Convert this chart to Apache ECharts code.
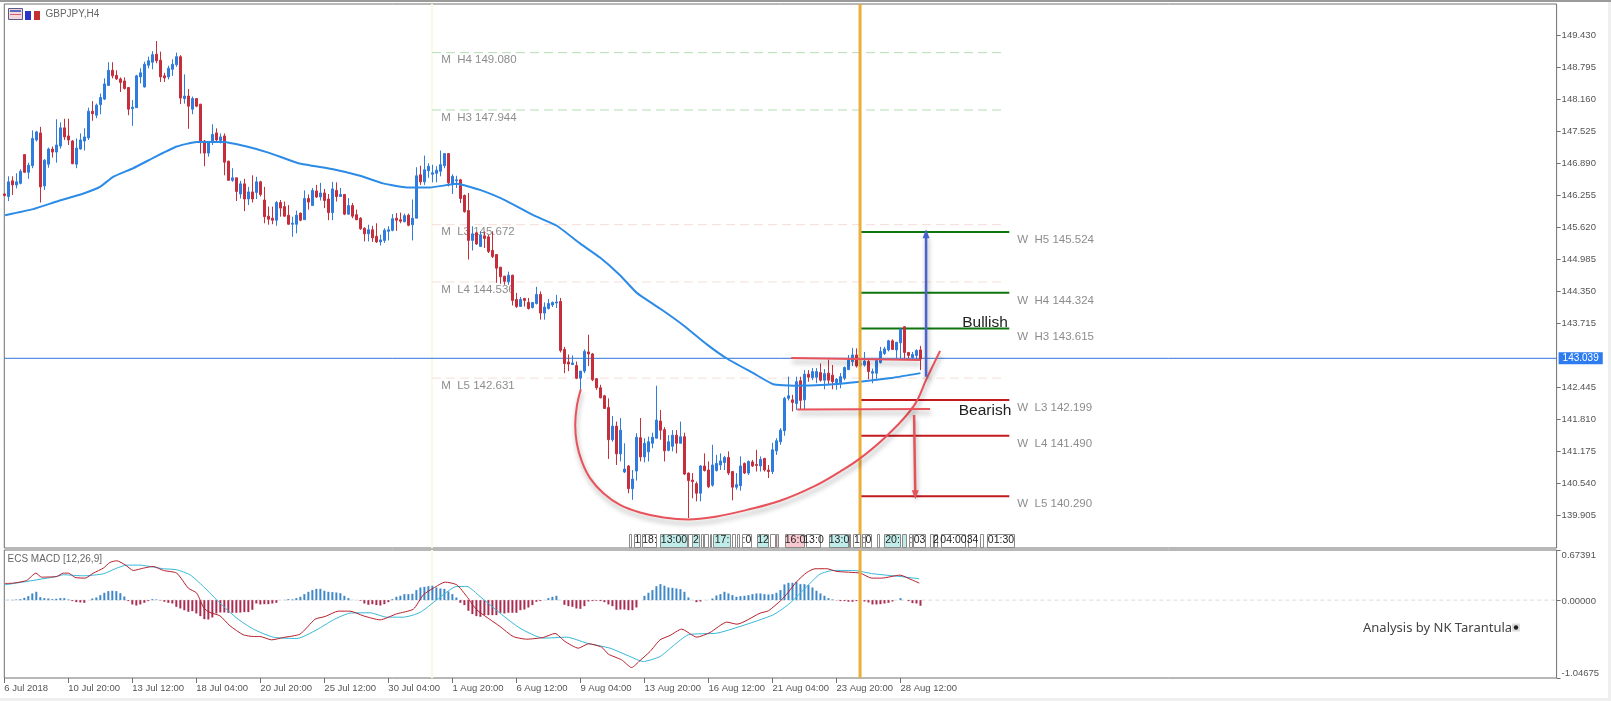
<!DOCTYPE html>
<html>
<head>
<meta charset="utf-8">
<title>GBPJPY,H4</title>
<style>
html, body { margin: 0; padding: 0; background: #fff; }
#main { width: 1611px; height: 701px; }
</style>
<script src="https://cdn.jsdelivr.net/npm/echarts@6/dist/echarts.min.js"></script>
</head>
<body>
<div id="main"></div>
<script>
// bottom time scale, one label every 16 bars
var timeLabels = ['6 Jul 2018', '10 Jul 20:00', '13 Jul 12:00', '18 Jul 04:00', '20 Jul 20:00', '25 Jul 12:00', '30 Jul 04:00', '1 Aug 20:00', '6 Aug 12:00', '9 Aug 04:00', '13 Aug 20:00', '16 Aug 12:00', '21 Aug 04:00', '23 Aug 20:00', '28 Aug 12:00'];
// 143.080 is hidden behind the bid box in the picture, so it is left out
var priceTicks = [149.430, 148.795, 148.160, 147.525, 146.890, 146.255, 145.620, 144.985, 144.350, 143.715, 142.445, 141.810, 141.175, 140.540, 139.905];
var macdTicks = [0.67391, 0, -1.04675];

// open, close, low, high
var ohlc = [
[146.28,146.25,146.23,146.29],[146.23,146.52,146.14,146.63],[146.54,146.46,146.26,146.63],[146.46,146.52,146.39,146.69],[146.49,146.73,146.47,146.77],
[147.06,146.71,146.70,147.07],[146.71,146.85,146.58,146.90],[146.84,147.38,146.79,147.54],[147.35,147.51,147.32,147.53],[147.49,146.42,146.11,147.61],
[146.44,146.95,146.36,146.97],[146.87,147.17,146.80,147.20],[147.17,147.11,147.00,147.22],[147.11,147.25,146.90,147.76],[147.23,147.59,147.18,147.70],
[147.59,147.41,147.35,147.77],[147.43,147.35,147.25,147.77],[147.33,146.88,146.87,147.35],[146.87,147.19,146.79,147.38],[147.17,147.35,147.16,147.48],
[147.33,147.41,147.14,147.58],[147.39,147.92,147.35,147.99],[147.92,147.87,147.73,148.12],[147.84,148.04,147.78,148.07],[148.05,148.19,147.86,148.27],
[148.16,148.46,148.14,148.57],[148.43,148.73,148.42,148.89],[148.73,148.62,148.57,148.89],[148.63,148.56,148.54,148.73],[148.56,148.49,148.30,148.59],
[148.52,148.37,148.35,148.59],[148.39,147.96,147.84,148.39],[147.97,148.00,147.63,148.14],[147.99,148.62,147.99,148.64],[148.60,148.68,148.47,148.77],
[148.40,148.85,148.39,148.90],[148.83,148.92,148.77,149.00],[148.89,149.04,148.75,149.11],[149.05,148.92,148.87,149.31],[148.93,148.60,148.50,149.10],
[148.62,148.58,148.50,148.68],[148.60,148.77,148.55,148.82],[148.75,148.85,148.62,148.95],[148.84,149.00,148.80,149.08],[149.00,148.18,148.06,149.03],
[148.17,148.22,148.07,148.65],[148.22,148.02,147.57,148.36],[147.96,148.17,147.86,148.21],[148.17,148.02,148.00,148.17],[148.06,147.33,147.08,148.06],
[147.33,147.09,146.83,147.35],[147.09,147.32,147.02,147.33],[147.31,147.46,147.25,147.66],[147.49,147.35,147.32,147.58],[147.34,147.41,147.28,147.48],
[147.43,146.91,146.65,147.48],[146.93,146.55,146.54,146.94],[146.55,146.60,146.52,146.79],[146.60,146.33,146.14,146.60],[146.28,146.48,146.19,146.54],
[146.48,146.18,145.94,146.58],[146.18,146.32,146.06,146.42],[146.32,146.18,146.11,146.65],[146.31,146.52,146.18,146.62],[146.52,146.27,146.23,146.54],
[146.16,145.83,145.70,146.42],[145.84,145.78,145.67,146.03],[145.80,145.76,145.68,146.03],[145.76,146.11,145.65,146.14],[146.11,146.00,145.83,146.16],
[146.03,145.84,145.83,146.13],[145.86,145.68,145.67,146.06],[145.68,145.70,145.43,145.83],[145.68,145.86,145.50,145.95],[145.90,145.76,145.74,145.91],
[145.77,146.19,145.77,146.35],[146.19,146.12,145.97,146.27],[146.05,146.35,146.05,146.40],[146.34,146.22,146.20,146.46],[146.22,146.30,146.15,146.50],
[146.30,146.15,146.00,146.38],[146.18,145.91,145.76,146.28],[145.91,146.38,145.76,146.52],[146.35,146.23,146.13,146.51],[146.23,146.27,146.22,146.40],
[146.27,145.88,145.86,146.28],[145.88,146.05,145.87,146.20],[146.05,145.84,145.80,146.10],[145.87,145.77,145.76,145.97],[145.80,145.59,145.57,145.82],
[145.60,145.49,145.34,145.62],[145.49,145.57,145.34,145.67],[145.57,145.41,145.33,145.65],[145.44,145.33,145.31,145.70],[145.33,145.37,145.26,145.47],
[145.36,145.56,145.31,145.60],[145.54,145.57,145.36,145.64],[145.56,145.79,145.54,145.88],[145.80,145.76,145.55,145.90],[145.77,145.74,145.70,145.91],
[145.73,145.85,145.72,145.89],[145.86,145.66,145.64,145.89],[145.67,145.80,145.36,146.17],[145.80,146.64,145.80,146.81],[146.66,146.52,146.46,146.84],
[146.52,146.76,146.46,147.04],[146.74,146.83,146.60,146.89],[146.67,146.70,146.51,146.86],[146.69,146.75,146.51,146.83],[146.73,146.86,146.63,147.14],
[146.84,147.08,146.79,147.09],[147.08,146.50,146.43,147.09],[146.48,146.63,146.28,146.67],[146.54,146.56,146.40,146.64],[146.56,146.19,146.10,146.58],
[146.25,145.93,145.91,146.27],[145.95,145.36,144.98,146.30],[145.36,145.49,145.16,145.64],[145.51,145.29,145.27,145.53],[145.24,145.47,145.23,145.54],
[145.45,145.40,145.21,145.54],[145.43,145.14,145.11,145.47],[145.16,145.04,145.01,145.54],[145.08,144.81,144.52,145.09],[144.83,144.64,144.50,144.83],
[144.65,144.55,144.48,144.66],[144.54,144.67,144.48,144.74],[144.67,144.17,144.07,144.68],[144.19,144.05,144.02,144.32],[144.05,144.19,144.04,144.24],
[144.21,144.17,144.05,144.22],[144.13,144.01,143.99,144.22],[144.03,144.13,144.01,144.13],[144.11,144.29,144.09,144.44],[144.29,143.92,143.79,144.35],
[143.92,144.04,143.79,144.13],[144.01,144.11,143.99,144.20],[144.08,144.13,144.04,144.15],[144.12,144.14,144.02,144.28],[144.15,143.18,143.14,144.22],
[143.20,142.92,142.73,143.25],[142.95,142.91,142.77,143.10],[142.90,142.93,142.89,143.08],[142.88,142.63,142.61,142.96],[142.63,142.77,142.40,142.77],
[142.77,143.16,142.73,143.20],[143.15,143.11,142.87,143.49],[143.11,142.60,142.57,143.13],[142.62,142.44,142.40,142.63],[142.44,142.24,142.23,142.50],
[142.28,142.03,142.02,142.30],[142.05,141.41,141.03,142.23],[141.41,141.68,141.37,141.88],[141.68,141.13,140.91,141.77],[141.13,141.60,140.98,141.84],
[140.77,140.83,140.75,141.34],[140.89,140.44,140.35,140.91],[140.44,140.63,140.22,140.81],[140.79,141.46,140.60,141.54],[141.45,141.07,140.98,141.84],
[141.07,141.34,140.96,141.44],[141.17,141.37,140.98,141.47],[141.34,141.46,141.24,141.55],[141.44,141.80,141.44,142.48],[141.78,141.60,141.41,142.00],
[141.61,141.19,140.98,141.66],[141.20,141.37,141.18,141.50],[141.28,141.50,141.18,141.60],[141.50,141.34,141.14,141.60],[141.34,141.47,141.34,141.77],
[141.47,140.73,140.71,141.55],[140.75,140.60,139.86,140.76],[140.61,140.58,140.25,140.75],[140.54,140.35,140.19,140.58],[140.35,140.89,140.19,140.91],
[140.89,140.80,140.78,141.14],[140.81,140.48,140.45,140.98],[140.51,140.91,140.48,141.31],[140.80,140.94,140.78,141.11],[140.91,140.99,140.81,141.14],
[140.96,141.06,140.81,141.09],[141.06,140.75,140.71,141.18],[140.78,140.47,140.21,140.79],[140.47,140.52,140.42,140.75],[140.50,140.89,140.40,141.08],
[140.94,140.75,140.73,140.96],[140.75,140.98,140.71,141.00],[140.97,140.89,140.87,141.01],[140.92,140.90,140.78,141.21],[140.89,141.02,140.78,141.08],
[141.04,140.81,140.78,141.05],[140.81,140.78,140.65,140.91],[140.78,141.21,140.73,141.35],[141.19,141.39,141.11,141.44],[141.37,141.60,141.31,141.64],
[141.59,142.23,141.49,142.26],[142.23,142.28,142.19,142.66],[142.20,142.15,141.97,142.30],[142.13,142.56,142.00,142.66],[142.58,142.19,142.00,142.66],
[142.20,142.71,142.01,142.79],[142.71,142.65,142.56,142.79],[142.64,142.76,142.59,142.83],[142.65,142.76,142.53,142.83],[142.74,142.59,142.56,142.92],
[142.59,142.72,142.41,142.81],[142.73,142.59,142.50,143.00],[142.69,142.56,142.41,142.89],[142.54,142.61,142.40,142.63],[142.54,142.66,142.43,142.73],
[142.63,142.84,142.59,142.86],[142.80,142.99,142.79,143.09],[142.96,143.09,142.87,143.23],[143.09,142.87,142.84,143.22],[142.89,142.92,142.73,142.99],
[142.89,142.97,142.86,143.15],[142.96,142.76,142.61,142.99],[142.73,142.76,142.53,142.82],[142.73,142.98,142.59,142.99],[142.94,143.16,142.92,143.25],
[143.12,143.21,143.09,143.25],[143.19,143.37,143.16,143.39],[143.37,143.20,143.19,143.40],[143.19,143.34,143.02,143.35],[143.33,143.60,143.02,143.62],
[143.65,143.14,143.02,143.66],[143.14,143.08,143.02,143.15],[143.04,143.10,143.01,143.15],[143.08,143.18,143.01,143.20],[143.19,143.01,142.79,143.27]
];

// moving average: [bar, price]
var maLine = [[0.2,145.86],[7.25,145.98],[13.1,146.13],[19.8,146.29],[23.9,146.42],[27.2,146.62],[32.2,146.79],[38.1,147.03],[43.1,147.22],[48.1,147.31],[54.8,147.31],[60.6,147.22],[66.4,147.09],[73.5,146.89],[82.2,146.77],[88.9,146.64],[94.7,146.49],[100.6,146.41],[106.4,146.41],[113.1,146.48],[118.9,146.36],[125.6,146.14],[132.2,145.86],[138.1,145.65],[143.9,145.30],[148.9,145.02],[153.9,144.67],[158.1,144.32],[163.9,144.01],[169.7,143.68],[175.6,143.30],[180.6,143.02],[187.2,142.73],[192.2,142.51],[197.2,142.48],[205.6,142.50],[213.9,142.56],[222.2,142.64],[229,142.73]];

var currentPrice = 143.024;
var currentPriceLabel = '143.039';

var monthlyNames = ['M  H4', 'M  H3', 'M  L3', 'M  L4', 'M  L5'];
var monthlyLevels = [149.080, 147.944, 145.672, 144.536, 142.631];
var weeklyNames = ['W  H5', 'W  H4', 'W  H3', 'W  L3', 'W  L4', 'W  L5'];
var weeklyLevels = [145.524, 144.324, 143.615, 142.199, 141.490, 140.290];

// hand drawn marks, [bar, price]
var cupCurve = [[144.1,142.41],[143.1,142.07],[142.7,141.70],[143.1,141.34],[144.35,140.98],[146.4,140.65],[149.75,140.35],[153.9,140.12],[158.9,139.97],[164.75,139.87],[171,139.83],[178.1,139.89],[185.6,140.02],[193.9,140.20],[202.25,140.48],[208.9,140.78],[213.9,141.04],[220.6,141.49],[227.25,142.07],[230.6,142.63],[233.9,143.17]];
var resistanceLine = [[196.7,143.03],[228.9,142.99]];
var supportLine = [[198.2,142.01],[231.4,142.02]];
var bullArrow = [[230.4,142.66],[230.4,145.49]];
var bearArrow = [[227.4,141.90],[227.7,140.32]];

// MACD window
var macdHist = [
.004,.004,.004,.009,.013,.031,.054,.09,.112,.04,
.027,.022,.013,.018,.027,.027,.009,-.013,-.027,-.031,
-.036,0,.022,.036,.067,.099,.121,.126,.121,.094,
.049,-.013,-.058,-.072,-.058,-.036,-.013,.013,.009,-.004,
-.022,-.036,-.045,-.09,-.112,-.135,-.157,-.148,-.179,-.215,
-.256,-.26,-.233,-.179,-.166,-.166,-.17,-.17,-.17,-.166,
-.161,-.161,-.13,-.045,-.058,-.054,-.054,-.045,-.036,0,
.004,.013,.009,.027,.045,.081,.112,.135,.152,.152,
.126,.112,.108,.103,.094,.058,.027,.004,0,-.009,
-.045,-.063,-.054,-.067,-.072,-.054,-.027,.013,.045,.058,
.081,.081,.085,.135,.17,.179,.188,.193,.17,.157,
.152,.117,.081,.036,-.036,-.067,-.143,-.188,-.215,-.224,
-.202,-.202,-.202,-.202,-.17,-.179,-.17,-.17,-.17,
-.135,-.126,-.099,-.067,-.022,-.013,0,.027,.045,.058,
0,-.063,-.081,-.09,-.112,-.117,-.081,-.018,-.013,-.009,
-.013,-.027,-.058,-.081,-.13,-.126,-.126,-.135,-.135,-.099,
0,.058,.099,.135,.188,.215,.193,.17,.166,.157,
.148,.112,.036,0,-.027,-.018,0,0,.022,.063,
.081,.112,.09,.067,.045,.054,.058,.067,.081,.09,
.09,.081,.076,.081,.099,.135,.211,.233,.233,.247,
.215,.215,.202,.17,.126,.09,.058,.027,.009,-.004,
-.013,-.013,-.022,-.022,-.013,-.004,-.018,-.031,-.058,-.058,
-.054,-.045,-.036,-.018,0,.027,0,-.013,-.04,-.045,-.076
];
var macdLine = [[0.2,.224],[2.25,.229],[5.6,.265],[7.9,.363],[9.3,.309],[13.1,.318],[14.75,.363],[16,.363],[17.7,.305],[20.2,.296],[22.25,.363],[24.75,.430],[26.4,.507],[28.1,.529],[30.2,.475],[32.25,.399],[34.75,.430],[37.25,.453],[39.75,.399],[43.1,.363],[46,.161],[48.1,.094],[49.9,-.108],[51.4,-.166],[53.9,-.211],[56.4,-.345],[59.75,-.466],[62.25,-.489],[63.9,-.489],[66.8,-.534],[69.75,-.502],[73.9,-.457],[77.7,-.256],[80.2,-.220],[83.5,-.148],[86.4,-.148],[89.75,-.211],[93.9,-.265],[98.1,-.184],[102.25,-.121],[104.75,.072],[107.25,.161],[110.2,.242],[113.1,.206],[115.6,.049],[118.1,-.130],[123.9,-.354],[127.2,-.489],[130.6,-.525],[134.7,-.502],[137.65,-.448],[140.15,-.556],[143.5,-.646],[146,-.587],[149.3,-.632],[151,-.726],[154.3,-.803],[156.8,-.906],[158.9,-.812],[161.4,-.691],[163.9,-.534],[166.4,-.475],[169.3,-.390],[173.1,-.498],[176.4,-.435],[180.6,-.296],[183.1,-.323],[188.9,-.175],[191,-.143],[194.7,.027],[198.1,.251],[200.6,.372],[202.65,.422],[205.6,.422],[208.1,.386],[213.9,.363],[216.8,.296],[219.3,.296],[223.9,.336],[226.4,.283],[228.7,.229]];
var signalLine = [[0.2,.206],[5.6,.251],[13.1,.318],[14.75,.341],[19.75,.327],[24.75,.354],[28.1,.430],[30.6,.471],[33.9,.471],[37.25,.444],[39.75,.422],[43.1,.408],[46.4,.341],[49.75,.184],[53.9,-.040],[58.1,-.242],[62.25,-.390],[67.25,-.498],[73.1,-.516],[78.1,-.399],[82.25,-.265],[86.4,-.175],[91.4,-.170],[95.6,-.229],[99.75,-.229],[103.9,-.166],[108.1,.004],[113.1,.184],[115.6,.184],[118.9,.049],[123.9,-.175],[128.9,-.377],[134.7,-.511],[140.6,-.498],[145.6,-.578],[151.4,-.646],[156.4,-.758],[159.7,-.825],[163.9,-.758],[167.2,-.614],[171,-.466],[178.1,-.444],[183.9,-.354],[192.2,-.197],[196.4,-.040],[200.6,.184],[203.9,.350],[207.2,.399],[212.2,.399],[217.2,.354],[223.9,.318],[228.7,.287]];

// vertical period lines, in bars
var periodBar = 106.9;
var weekBar = 213.9;

var totalBars = 388;
var monthStart = periodBar, monthEnd = 249.4, monthText = 109.2;
var weekStart = weekBar, weekEnd = 251.2, weekText = 253.2;

var FONT = '"Liberation Sans", Arial, sans-serif';
var TEXT_GREY = '#555';
var priceMin = 139.265, priceMax = 150.044;
var macdMin = -1.04675, macdMax = 0.67391;

// 389 slots, only every 16th has a name
var categories = [];
for (var i = 0; i <= totalBars; i++) {
	categories.push(i % 16 === 0 && timeLabels[i / 16] ? timeLabels[i / 16] : '');
}

var series = [];

function flatLine(name, a, b, price, style, z) {
	series.push({
		name: name, type: 'line', xAxisIndex: 2, yAxisIndex: 0, z: z || 3,
		symbol: 'none', silent: true, animation: false,
		data: [[a, price], [b, price]], lineStyle: style
	});
}

function levelText(names, levels, bar, offset) {
	series.push({
		type: 'scatter', xAxisIndex: 2, yAxisIndex: 0, z: 4, symbolSize: 0, silent: true, animation: false,
		data: levels.map(function (v, i) { return { value: [bar, v], name: names[i] }; }),
		label: {
			show: true, position: 'right', distance: 0, offset: [0, offset],
			fontFamily: FONT, fontSize: 11.5, color: '#6F6F6F',
			formatter: function (p) { return p.name + ' ' + p.value[1].toFixed(3); }
		}
	});
}

// vertical period lines in both windows
function vLine(bar, color, width, z) {
	series.push({ type: 'line', xAxisIndex: 2, yAxisIndex: 0, z: z, symbol: 'none', silent: true, animation: false,
		data: [[bar, priceMin], [bar, priceMax]], lineStyle: { color: color, width: width } });
	series.push({ type: 'line', xAxisIndex: 3, yAxisIndex: 1, z: z, symbol: 'none', silent: true, animation: false,
		data: [[bar, macdMin], [bar, macdMax]], lineStyle: { color: color, width: width } });
}
vLine(periodBar, '#FAFAE0', 2, 1);

monthlyLevels.forEach(function (v, i) {
	var c = i < 2 ? '#B5DDB0' : '#F6DDD8';
	flatLine(monthlyNames[i], monthStart, monthEnd, v, { color: c, width: 1, type: [9, 5] }, 2);
});
weeklyLevels.forEach(function (v, i) {
	var c = i < 3 ? '#0F760F' : '#C21A1E';
	flatLine(weeklyNames[i], weekStart, weekEnd, v, { color: c, width: 2 }, 3);
});
levelText(monthlyNames, monthlyLevels, monthText, 7.5);
levelText(weeklyNames, weeklyLevels, weekText, 8);

// current bid line
series.push({
	name: 'bid', type: 'line', xAxisIndex: 2, yAxisIndex: 0, z: 4, symbol: 'none', silent: true, animation: false,
	data: [[0, currentPrice], [totalBars, currentPrice]],
	lineStyle: { color: '#2E73D8', width: 1 },
	endLabel: {
		show: true, distance: 2, formatter: currentPriceLabel, color: '#fff', backgroundColor: '#2C7BF0',
		fontFamily: FONT, fontSize: 10, padding: [1, 4, 1, 4]
	}
});

series.push({
	name: 'GBPJPY', type: 'candlestick', xAxisIndex: 0, yAxisIndex: 0, z: 5, barWidth: 2, silent: true, animation: false,
	data: ohlc,
	itemStyle: { color: '#2F7BDE', color0: '#C52F3B', borderColor: '#2F7BDE', borderColor0: '#C52F3B', borderWidth: 1 }
});
series.push({
	name: 'MA', type: 'line', xAxisIndex: 2, yAxisIndex: 0, z: 6, symbol: 'none', smooth: 0.15, silent: true, animation: false,
	data: maLine, lineStyle: { color: '#2C8BE6', width: 2 }
});

vLine(weekBar, '#E9AE3C', 3, 7);

// red and blue pen marks, they have a soft shadow in the picture
var penShadow = { shadowColor: 'rgba(0,0,0,0.35)', shadowBlur: 5, shadowOffsetY: 4, shadowOffsetX: 1 };
function penLine(data, color, width, smooth) {
	series.push({
		type: 'line', xAxisIndex: 2, yAxisIndex: 0, z: 8, symbol: 'none', smooth: smooth || false, silent: true, animation: false,
		data: data, lineStyle: Object.assign({ color: color, width: width }, penShadow)
	});
}
penLine(cupCurve, '#E8525A', 2, 0.4);
penLine(resistanceLine, '#E8525A', 2);
penLine(supportLine, '#E8525A', 2);

function penArrow(data, color, rotate) {
	series.push({
		type: 'line', xAxisIndex: 2, yAxisIndex: 0, z: 8, silent: true, animation: false, showSymbol: true,
		data: [
			{ value: data[0], symbol: 'none' },
			{ value: data[1], symbol: 'triangle', symbolSize: [7, 9], symbolRotate: rotate }
		],
		itemStyle: { color: color },
		lineStyle: Object.assign({ color: color, width: 2.5 }, penShadow)
	});
}
penArrow(bullArrow, '#4A62CC', 0);
penArrow(bearArrow, '#E2535A', 180);

// MACD window
series.push({
	name: 'zero', type: 'line', xAxisIndex: 3, yAxisIndex: 1, z: 1, symbol: 'none', silent: true, animation: false,
	data: [[0, 0], [totalBars, 0]], lineStyle: { color: '#DDD', width: 1, type: [4, 3] }
});
series.push({
	name: 'hist', type: 'bar', xAxisIndex: 1, yAxisIndex: 1, z: 3, barWidth: 2, silent: true, animation: false,
	data: macdHist,
	itemStyle: { color: function (p) { return p.value >= 0 ? '#3F88C8' : '#A82C50'; } }
});
series.push({
	name: 'signal', type: 'line', xAxisIndex: 3, yAxisIndex: 1, z: 4, symbol: 'none', smooth: 0.2, silent: true, animation: false,
	data: signalLine, lineStyle: { color: '#35B8D8', width: 1 }
});
series.push({
	name: 'macd', type: 'line', xAxisIndex: 3, yAxisIndex: 1, z: 5, symbol: 'none', smooth: 0.2, silent: true, animation: false,
	data: macdLine, lineStyle: { color: '#B5202C', width: 1 }
});

// period tags sitting on the bottom of the main window: left, width, text, fill
var WHITE = '#fff', TEAL = '#BFEBE8', PINK = '#F8C8D0';
var timeTags = [
	[629, 2, '', WHITE], [634, 6, '1', WHITE], [642, 14, '18:', WHITE], [660, 27, '13:00', TEAL], [688, 4, '', WHITE],
	[692, 7, '2', TEAL], [701, 2, '', WHITE], [704, 4, '', WHITE], [710, 1, '', PINK], [713, 17, '17:', TEAL],
	[732, 3, '', WHITE], [737, 2, '', WHITE], [742, 9, ':0', WHITE], [757, 11, '12', TEAL], [770, 5, '', WHITE],
	[776, 2, '', PINK], [785, 19, '16:0', PINK], [806, 14, '13:0', WHITE], [829, 19, '13:0', TEAL], [849, 1, '', PINK],
	[853, 7, '1', WHITE], [862, 3, ':', WHITE], [865, 6, '0', WHITE], [877, 2, '', WHITE], [884, 16, '20:', TEAL],
	[902, 4, '', TEAL], [909, 3, ':', WHITE], [913, 12, '03', WHITE], [930, 3, '', WHITE], [934, 3, '2', WHITE],
	[941, 24, '04:00', WHITE], [968, 8, '34', WHITE], [980, 3, '', WHITE], [987, 27, '01:30', WHITE]
];

var graphics = [
	{ type: 'rect', shape: { x: 0, y: 0, width: 1611, height: 2 }, style: { fill: '#9A9A9A' }, z: 50 },
	{ type: 'rect', shape: { x: 1608, y: 2, width: 3, height: 699 }, style: { fill: '#EFEFEF' }, z: 50 },
	{ type: 'rect', shape: { x: 0, y: 698, width: 1611, height: 3 }, style: { fill: '#EFEFEF' }, z: 50 },
	// little window icons next to the symbol name
	{ type: 'rect', shape: { x: 8.5, y: 8.5, width: 14, height: 11 }, style: { fill: '#F2D7DC', stroke: '#5A5A8A' }, z: 50 },
	{ type: 'rect', shape: { x: 10, y: 10, width: 11, height: 2 }, style: { fill: '#5A6AC0' }, z: 51 },
	{ type: 'rect', shape: { x: 10, y: 14, width: 11, height: 1 }, style: { fill: '#D06070' }, z: 51 },
	{ type: 'rect', shape: { x: 25, y: 11, width: 6, height: 9 }, style: { fill: '#2A34C8' }, z: 50 },
	{ type: 'rect', shape: { x: 34, y: 11, width: 6, height: 9 }, style: { fill: '#C43030' }, z: 50 },
	{ type: 'text', x: 45.5, y: 14.5, z: 50, style: { text: 'GBPJPY,H4', fill: '#666', font: '10px ' + FONT, textVerticalAlign: 'middle' } },
	{ type: 'text', x: 7.5, y: 559.5, z: 50, style: { text: 'ECS MACD [12,26,9]', fill: '#666', font: '10px ' + FONT, textVerticalAlign: 'middle' } },
	{ type: 'text', x: 985, y: 323, z: 50, style: { text: 'Bullish', fill: '#222', font: '15.5px ' + FONT, textAlign: 'center', textVerticalAlign: 'middle', shadowColor: 'rgba(0,0,0,0.4)', shadowBlur: 3, shadowOffsetY: 2 } },
	{ type: 'text', x: 985, y: 411, z: 50, style: { text: 'Bearish', fill: '#222', font: '15.5px ' + FONT, textAlign: 'center', textVerticalAlign: 'middle', shadowColor: 'rgba(0,0,0,0.4)', shadowBlur: 3, shadowOffsetY: 2 } },
	{ type: 'text', x: 1363, y: 628.5, z: 50, style: { text: 'Analysis by NK Tarantula', fill: '#444', font: '13px "Noto Sans", sans-serif', textVerticalAlign: 'middle' } },
	{ type: 'rect', shape: { x: 1512, y: 623.5, width: 8, height: 8 }, style: { fill: '#DDD' }, z: 50 },
	{ type: 'circle', shape: { cx: 1516, cy: 627.5, r: 2.2 }, style: { fill: '#222' }, z: 51 }
];
timeTags.forEach(function (t) {
	graphics.push({ type: 'rect', z: 40, shape: { x: t[0] + 0.5, y: 534.5, width: t[1], height: 13 }, style: { fill: t[3], stroke: '#8A8A8A', lineWidth: 1 } });
	if (t[2]) {
		graphics.push({ type: 'text', z: 41, x: t[0] + t[1] / 2 + 0.5, y: 540.5, style: { text: t[2], fill: '#222', font: '10.5px ' + FONT, textAlign: 'center', textVerticalAlign: 'middle' } });
	}
});

var myChart = echarts.init(document.getElementById('main'));
myChart.setOption({
	animation: false,
	backgroundColor: '#fff',
	grid: [
		{ left: 4.3, top: 4, width: 1552.3, height: 544, show: true, borderColor: '#707070', borderWidth: 1, containLabel: false },
		{ left: 4.3, top: 550, width: 1552.3, height: 128, show: true, borderColor: '#707070', borderWidth: 1, containLabel: false }
	],
	xAxis: [
		{ type: 'category', gridIndex: 0, data: categories, boundaryGap: false, axisLine: { show: false, onZero: false }, axisTick: { show: false }, axisLabel: { show: false }, splitLine: { show: false } },
		{
			type: 'category', gridIndex: 1, data: categories, boundaryGap: false,
			axisLine: { show: false, onZero: false },
			axisTick: { show: true, length: 5, inside: false, lineStyle: { color: '#707070' }, interval: function (i, v) { return v !== ''; } },
			axisLabel: { show: true, align: 'left', margin: 5, fontFamily: FONT, fontSize: 9.5, color: TEXT_GREY, hideOverlap: false, interval: function (i, v) { return v !== ''; } },
			splitLine: { show: false }
		},
		{ type: 'value', gridIndex: 0, min: 0, max: totalBars, show: false, splitLine: { show: false } },
		{ type: 'value', gridIndex: 1, min: 0, max: totalBars, show: false, splitLine: { show: false } }
	],
	yAxis: [
		{
			type: 'value', gridIndex: 0, position: 'right', min: priceMin, max: priceMax, scale: true, splitLine: { show: false },
			axisLine: { show: false, onZero: false },
			axisTick: { show: true, length: 4, customValues: priceTicks, lineStyle: { color: '#707070' } },
			axisLabel: { show: true, margin: 5, customValues: priceTicks, padding: [3, 0, 0, 0], fontFamily: FONT, fontSize: 9.5, color: TEXT_GREY, formatter: function (v) { return v.toFixed(3); } }
		},
		{
			type: 'value', gridIndex: 1, position: 'right', min: macdMin, max: macdMax, splitLine: { show: false },
			axisLine: { show: false, onZero: false },
			axisTick: { show: true, length: 4, customValues: macdTicks, lineStyle: { color: '#707070' } },
			axisLabel: {
				show: true, margin: 5, customValues: macdTicks,
				formatter: function (v) {
					var key = v > 0 ? 'top' : (v < 0 ? 'low' : 'mid');
					return '{' + key + '|' + v.toFixed(5) + '}';
				},
				rich: {
					top: { padding: [11, 0, 0, 0], fontFamily: FONT, fontSize: 9.5, color: TEXT_GREY },
					mid: { padding: [2, 0, 0, 0], fontFamily: FONT, fontSize: 9.5, color: TEXT_GREY },
					low: { padding: [0, 0, 10, 0], fontFamily: FONT, fontSize: 9.5, color: TEXT_GREY }
				}
			}
		}
	],
	graphic: graphics,
	series: series
});
</script>
</body>
</html>
